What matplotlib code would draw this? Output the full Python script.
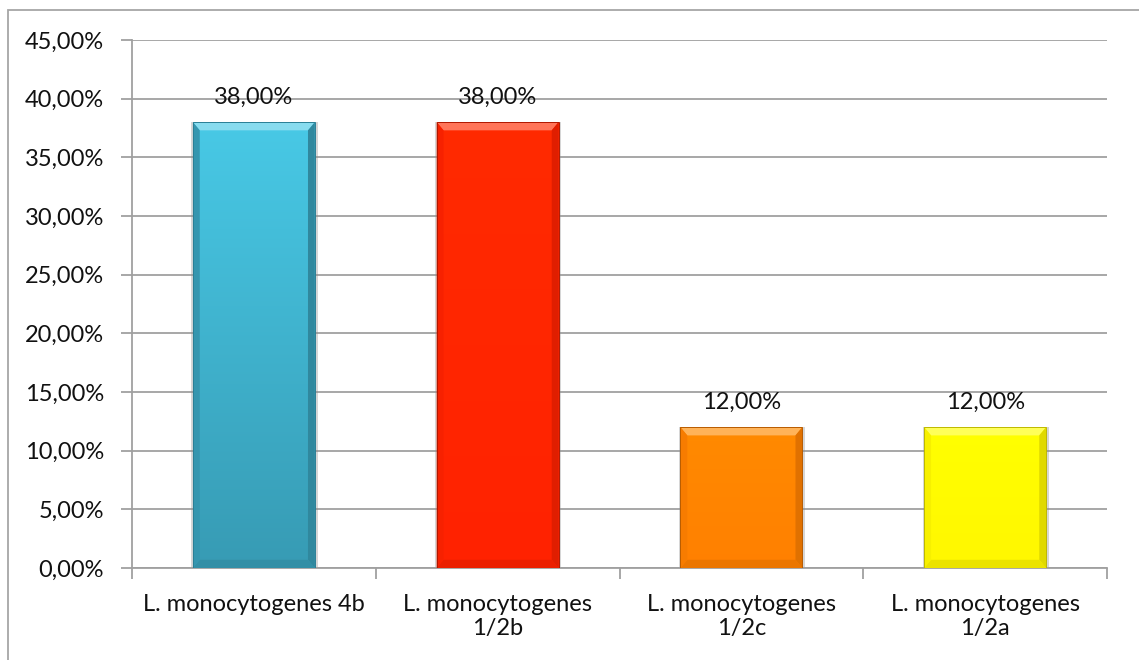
import matplotlib
matplotlib.use('Agg')
import matplotlib.pyplot as plt
import numpy as np
from matplotlib.colors import to_rgb
from matplotlib.patches import Polygon, Rectangle

# serotype distribution
categories = ['L. monocytogenes 4b', 'L. monocytogenes\n1/2b',
              'L. monocytogenes\n1/2c', 'L. monocytogenes\n1/2a']
shares = [38.0, 38.0, 12.0, 12.0]
top_colors = ['#48C9E6', '#FF2A00', '#FF8A00', '#FFFF00']
bottom_colors = ['#379BB4', '#FF2200', '#FF8000', '#FFF700']
edge_colors = ['#2A7F95', '#B01800', '#B85C00', '#BDB800']
y_ticks = np.arange(0, 46, 5)

plt.rcParams['font.family'] = ['Lato', 'DejaVu Sans']
FS = 17
GRID = '#A0A0A0'


def mix(c, other, t):
    c = np.array(to_rgb(c))
    return tuple((1 - t) * c + t * np.array(other))


fig = plt.figure(figsize=(11.39, 6.6), dpi=100)
ax = fig.add_axes([132 / 1139, 92 / 660, 975 / 1139, 528 / 660])

x = np.arange(len(categories))
bars = ax.bar(x, shares, width=0.5, color=bottom_colors, edgecolor='none', zorder=3)

bx, by = 0.028, 0.7  # bevel size in data units
for bar, c_top, c_bot, c_edge in zip(bars, top_colors, bottom_colors, edge_colors):
    x0, w, h = bar.get_x(), bar.get_width(), bar.get_height()
    # soft shadow
    ax.add_patch(Rectangle((x0 - 0.006, -0.15), w + 0.018, h + 0.2,
                           color='0.55', alpha=0.35, lw=0, zorder=2.5))
    # vertical gradient fill
    t = np.linspace(0, 1, 256)[:, None]
    rgb = (1 - t) * np.array(to_rgb(c_top)) + t * np.array(to_rgb(c_bot))
    img = ax.imshow(rgb[:, None, :], extent=(x0, x0 + w, 0, h), origin='upper',
                    aspect='auto', zorder=3.5, interpolation='bilinear')
    img.set_clip_path(bar)
    # bevelled edges
    x1 = x0 + w
    ax.add_patch(Polygon([(x0, h), (x1, h), (x1 - bx, h - by), (x0 + bx, h - by)],
                         closed=True, color=mix(c_top, (1, 1, 1), 0.35), lw=0, zorder=4))
    ax.add_patch(Polygon([(x1, h), (x1, 0), (x1 - bx, by), (x1 - bx, h - by)],
                         closed=True, color=mix(c_bot, (0, 0, 0), 0.12), lw=0, zorder=4))
    ax.add_patch(Polygon([(x0, 0), (x1, 0), (x1 - bx, by), (x0 + bx, by)],
                         closed=True, color=mix(c_bot, (0, 0, 0), 0.08), lw=0, zorder=4))
    ax.add_patch(Polygon([(x0, h), (x0, 0), (x0 + bx, by), (x0 + bx, h - by)],
                         closed=True, color=mix(c_bot, (0, 0, 0), 0.03), lw=0, zorder=4))
    ax.add_patch(Rectangle((x0, 0), w, h, fill=False, ec=c_edge, lw=0.7, zorder=4.5))

    ax.annotate(f'{h:.2f}%'.replace('.', ','), (bar.get_x() + w / 2, h),
                xytext=(0, 10), textcoords='offset points',
                ha='center', va='bottom', fontsize=FS, color='#111111')

ax.set_xlim(-0.5, len(categories) - 0.5)
ax.set_ylim(0, 45)

ax.set_yticks(y_ticks)
ax.set_yticklabels([f'{v:.2f}%'.replace('.', ',') for v in y_ticks])
ax.tick_params(axis='y', length=8, width=1.3, color=GRID, pad=12,
               labelsize=FS, labelcolor='#111111')

ax.set_xticks(np.arange(len(categories) + 1) - 0.5)
ax.set_xticklabels([])
ax.set_xticks(x, minor=True)
ax.set_xticklabels(categories, minor=True, fontsize=FS, color='#111111', linespacing=1.15)
ax.tick_params(axis='x', which='major', length=8, width=1.3, color=GRID)
ax.tick_params(axis='x', which='minor', length=0, pad=19)

ax.yaxis.grid(True, color=GRID, lw=1.3, zorder=0)
ax.set_axisbelow(True)
for side in ['top', 'right']:
    ax.spines[side].set_visible(False)
for side in ['left', 'bottom']:
    ax.spines[side].set_color(GRID)
    ax.spines[side].set_linewidth(1.3)

# chart frame
fig.add_artist(Rectangle((8 / 1139, -0.1), 2, 1.0924 - 5 / 660, transform=fig.transFigure,
                         fill=False, ec='#A6A6A6', lw=1.3))

fig.savefig('out.png', dpi=100)
